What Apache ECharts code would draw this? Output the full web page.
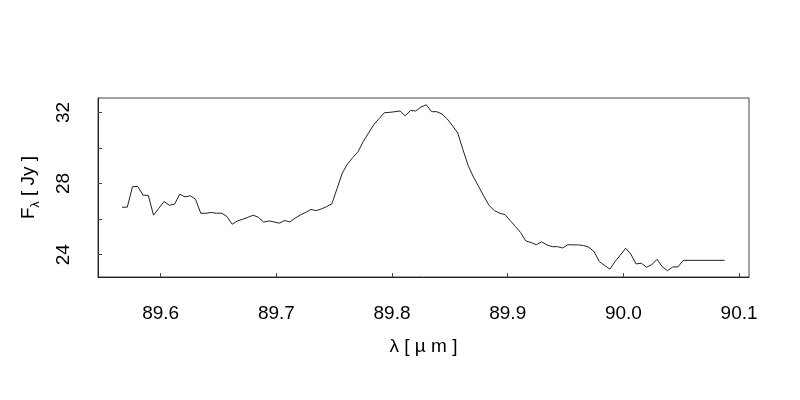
<!DOCTYPE html>
<html>
<head>
<meta charset="utf-8">
<script src="https://cdn.jsdelivr.net/npm/echarts@6/dist/echarts.min.js"></script>
<style>html,body{margin:0;padding:0;background:#fff}#c{width:800px;height:400px}</style>
</head>
<body>
<div id="c"></div>
<script>
var wavelength = [
  89.5666, 89.5711, 89.5757, 89.5802, 89.5847, 89.5893, 89.5938, 89.5983, 89.6029, 89.6074,
  89.6120, 89.6165, 89.6210, 89.6256, 89.6301, 89.6346, 89.6392, 89.6437, 89.6482, 89.6528,
  89.6573, 89.6618, 89.6664, 89.6709, 89.6754, 89.6800, 89.6845, 89.6890, 89.6936, 89.6981,
  89.7026, 89.7072, 89.7117, 89.7162, 89.7208, 89.7253, 89.7298, 89.7344, 89.7389, 89.7434,
  89.7480, 89.7525, 89.7570, 89.7616, 89.7661, 89.7706, 89.7752, 89.7797, 89.7842, 89.7888,
  89.7933, 89.7978, 89.8024, 89.8069, 89.8114, 89.8160, 89.8205, 89.8250, 89.8296, 89.8341,
  89.8387, 89.8432, 89.8477, 89.8523, 89.8568, 89.8613, 89.8659, 89.8704, 89.8749, 89.8795,
  89.8840, 89.8885, 89.8931, 89.8976, 89.9021, 89.9067, 89.9112, 89.9157, 89.9203, 89.9248,
  89.9293, 89.9339, 89.9384, 89.9429, 89.9475, 89.9520, 89.9565, 89.9611, 89.9656, 89.9701,
  89.9747, 89.9792, 89.9837, 89.9883, 89.9928, 89.9973, 90.0019, 90.0064, 90.0109, 90.0155,
  90.0200, 90.0245, 90.0291, 90.0336, 90.0381, 90.0427, 90.0472, 90.0517, 90.0875
];
var flux = [
  26.67, 26.67, 27.83, 27.83, 27.35, 27.33, 26.22, 26.60, 26.99, 26.78,
  26.84, 27.40, 27.25, 27.31, 27.12, 26.33, 26.33, 26.37, 26.33, 26.33,
  26.14, 25.71, 25.90, 25.99, 26.10, 26.22, 26.10, 25.83, 25.90, 25.84,
  25.77, 25.92, 25.84, 26.05, 26.24, 26.37, 26.54, 26.48, 26.57, 26.70,
  26.86, 27.72, 28.59, 29.11, 29.46, 29.79, 30.37, 30.84, 31.31, 31.65,
  31.98, 32.00, 32.04, 32.08, 31.80, 32.11, 32.08, 32.30, 32.43, 32.04,
  32.04, 31.91, 31.63, 31.25, 30.84, 29.90, 29.00, 28.36, 27.83, 27.27,
  26.76, 26.48, 26.33, 26.25, 25.92, 25.58, 25.24, 24.77, 24.68, 24.56,
  24.72, 24.55, 24.45, 24.45, 24.38, 24.56, 24.55, 24.55, 24.51, 24.42,
  24.17, 23.61, 23.40, 23.19, 23.61, 23.97, 24.36, 24.04, 23.48, 23.52,
  23.29, 23.44, 23.74, 23.32, 23.10, 23.31, 23.31, 23.68, 23.68
];
var xTicks = [89.6, 89.7, 89.8, 89.9, 90.0, 90.1];
var yTicks = [24, 26, 28, 30, 32];
var yLabels = [24, 28, 32];

var pts = wavelength.map(function (w, i) { return [w, flux[i]]; });
var font = 'Liberation Sans, Arial, sans-serif';

var chart = echarts.init(document.getElementById('c'), null, {renderer: 'canvas'});
chart.setOption({
  animation: false,
  backgroundColor: '#fff',
  grid: {left: 98, right: 51, top: 98, bottom: 123, show: true, borderColor: '#444', borderWidth: 1, backgroundColor: 'transparent'},
  xAxis: {
    type: 'value', min: 89.5458, max: 90.1086,
    name: 'λ [ µ m ]', nameLocation: 'middle', nameGap: 60,
    nameTextStyle: {fontFamily: font, fontSize: 19, color: '#000'},
    axisLine: {show: true, lineStyle: {color: '#222', width: 1}},
    axisTick: {show: true, inside: true, length: 4, customValues: xTicks, lineStyle: {color: '#444'}},
    axisLabel: {show: true, customValues: xTicks, margin: 27, fontFamily: font, fontSize: 19, color: '#000',
      formatter: function (v) { return v.toFixed(1); }},
    splitLine: {show: false}
  },
  yAxis: {
    type: 'value', min: 22.744, max: 32.81,
    name: '{a|F}{s|λ}{a| [ Jy ]}', nameLocation: 'middle', nameGap: 56,
    nameTextStyle: {fontFamily: font, fontSize: 19, color: '#000',
      rich: {a: {fontFamily: font, fontSize: 19, color: '#000', lineHeight: 26, verticalAlign: 'middle'},
             s: {fontFamily: font, fontSize: 12, color: '#000', lineHeight: 26, verticalAlign: 'bottom'}}},
    axisLine: {show: true, lineStyle: {color: '#222', width: 1}},
    axisTick: {show: true, inside: true, length: 4, customValues: yTicks, lineStyle: {color: '#444'}},
    axisLabel: {show: true, customValues: yLabels, rotate: 90, margin: 25, fontFamily: font, fontSize: 19, color: '#000'},
    splitLine: {show: false}
  },
  series: [{
    type: 'line', data: pts, showSymbol: false, symbol: 'none',
    lineStyle: {color: '#222', width: 1}, clip: true
  }]
});
</script>
</body>
</html>
